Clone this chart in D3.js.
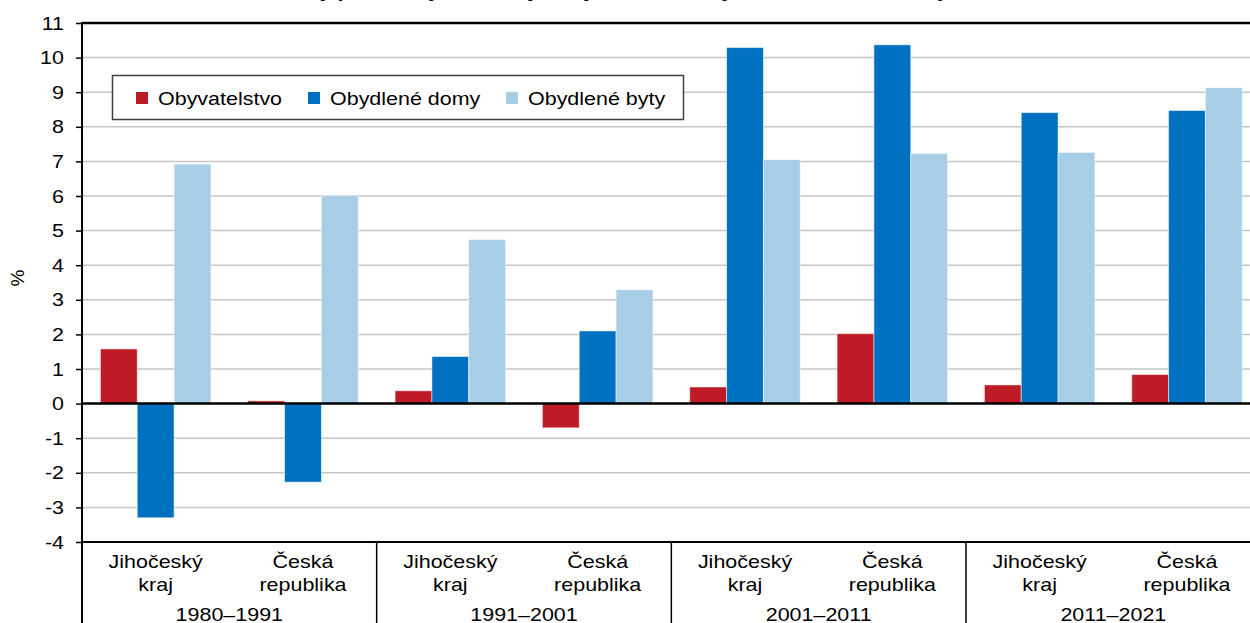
<!DOCTYPE html>
<html><head><meta charset="utf-8">
<script src="https://cdn.jsdelivr.net/npm/d3@7"></script>
<style>body{margin:0;background:#fff}svg{display:block}text{font-family:"Liberation Sans",Arial,sans-serif;fill:#000}</style>
</head><body><div id="chart"></div>
<script>
const periods = ["1980–1991","1991–2001","2001–2011","2011–2021"];
const regions = ["Jihočeský kraj","Česká republika"];
const regionLines = [["Jihočeský","kraj"],["Česká","republika"]];
const seriesNames = ["Obyvatelstvo","Obydlené domy","Obydlené byty"];
const seriesColors = ["#BE1B26","#0070C0","#A7CDE7"];
// values per category (period x region), in order: JK 1980, ČR 1980, JK 1991, ...
const obyvatelstvo = [1.58, 0.08, 0.37, -0.70, 0.48, 2.02, 0.54, 0.84];
const domy         = [-3.30, -2.27, 1.36, 2.10, 10.29, 10.37, 8.41, 8.47];
const byty         = [6.92, 6.01, 4.74, 3.29, 7.05, 7.23, 7.26, 9.13];
const yTicks = d3.range(-4, 12);
const title = "Relativní změny počtu obyvatel, obydlených domů a bytů v Jihočeském kraji";

(function(){
const W = 1250, H = 623;
const pLeft = 82, pTop = 23, pBottom = 542;
const catW = (966 - 82) / 6;
const pRight = pLeft + 8 * catW;
const FS = 19, SX = 1.13;

const svg = d3.select("#chart").append("svg").attr("width", W).attr("height", H);

const cats = [];
periods.forEach((p,i)=>regions.forEach((r,j)=>cats.push({p:i,r:j,key:p+"|"+r})));
const x0 = d3.scaleBand().domain(cats.map(c=>c.key)).range([pLeft,pRight]).paddingInner(0).paddingOuter(0);
const x1 = d3.scaleBand().domain(seriesNames).range([0,x0.bandwidth()]).paddingInner(0).paddingOuter(0.5);
const y = d3.scaleLinear().domain([-4,11]).range([pBottom,pTop]);

function txt(g, s, x, yy, anchor, size, bold){
  return g.append("text").attr("transform",`translate(${x},${yy}) scale(${SX},1)`)
    .attr("text-anchor",anchor).attr("font-size",size||FS).attr("font-weight",bold?"bold":null).text(s);
}

// title (mostly cut off at top, as in the reference)
txt(svg, title, 560, -3, "middle", 19, true);

// gridlines
svg.append("g").selectAll("line").data(yTicks.filter(t=>t!==0 && t!==-4 && t!==11)).join("line")
  .attr("x1",pLeft).attr("x2",pRight).attr("y1",d=>y(d)).attr("y2",d=>y(d))
  .attr("stroke","#c6c6c6").attr("stroke-width",1.5);

// bars
const series = [obyvatelstvo, domy, byty];
const gb = svg.append("g");
series.forEach((vals,si)=>{
  gb.selectAll(null).data(vals.map((v,i)=>({v,c:cats[i]}))).join("rect")
    .attr("x",d=>x0(d.c.key)+x1(seriesNames[si]))
    .attr("width",x1.bandwidth())
    .attr("y",d=>y(Math.max(0,d.v)))
    .attr("height",d=>Math.abs(y(d.v)-y(0)))
    .attr("fill",seriesColors[si])
    .attr("stroke","#fff").attr("stroke-opacity",0.5).attr("stroke-width",1);
});

// top border, zero line, bottom axis line
[[11,2.5],[0,2.5],[-4,2]].forEach(([v,w])=>{
  svg.append("line").attr("x1",pLeft).attr("x2",pRight).attr("y1",y(v)).attr("y2",y(v))
    .attr("stroke","#000").attr("stroke-width",w);
});

// y axis
const yAxis = d3.axisLeft(y).tickValues(yTicks).tickSize(6).tickPadding(12).tickFormat(d3.format("d"));
const ga = svg.append("g").attr("transform",`translate(${pLeft},0)`).call(yAxis);
ga.select(".domain").remove();
ga.selectAll(".tick line").attr("stroke","#000").attr("stroke-width",1.5);
ga.selectAll(".tick text").remove();
yTicks.forEach(t=>txt(svg, String(t), 64, y(t)+6.5, "end"));
svg.append("line").attr("x1",pLeft).attr("x2",pLeft).attr("y1",pTop-1).attr("y2",H)
  .attr("stroke","#000").attr("stroke-width",2);

// y label
svg.append("text").attr("transform","translate(24,278) rotate(-90)").attr("text-anchor","middle")
  .attr("font-size",FS).text("%");

// x axis labels
cats.forEach(c=>{
  const cx = x0(c.key) + x0.bandwidth()/2;
  regionLines[c.r].forEach((l,k)=>txt(svg, l, cx, 568 + k*23, "middle"));
});
periods.forEach((p,i)=>{
  const cx = x0(cats[i*2].key) + x0.bandwidth();
  txt(svg, p, cx, 621, "middle");
  if(i>0) svg.append("line").attr("x1",x0(cats[i*2].key)).attr("x2",x0(cats[i*2].key))
    .attr("y1",pBottom).attr("y2",H).attr("stroke","#000").attr("stroke-width",1.5);
});

// legend
const lg = svg.append("g");
lg.append("rect").attr("x",112.5).attr("y",75.5).attr("width",571).attr("height",44)
  .attr("fill","#fff").attr("stroke","#404040").attr("stroke-width",1.5);
const lx = [136, 308, 506];
seriesNames.forEach((s,i)=>{
  lg.append("rect").attr("x",lx[i]).attr("y",92).attr("width",12).attr("height",12).attr("fill",seriesColors[i]);
  txt(lg, s, lx[i]+22, 105, "start");
});
})();
</script></body></html>
